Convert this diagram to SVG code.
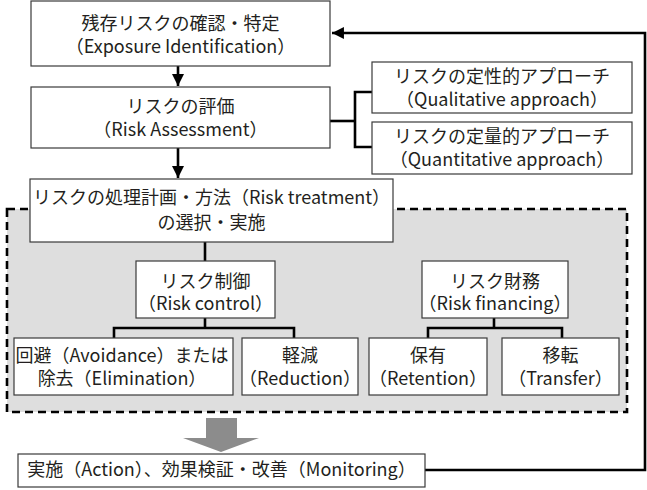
<svg xmlns="http://www.w3.org/2000/svg" width="647" height="490" viewBox="0 0 647 490">
<defs>
<style>
.box{fill:#fff;stroke:#3a3a3a;stroke-width:1.2}
.t{font-family:"Noto Sans CJK JP","Noto Sans",sans-serif;font-size:18px;fill:#231f20;text-anchor:middle}
.ln{fill:none;stroke:#000;stroke-width:2.6}
</style>
<marker id="ah" viewBox="0 0 10 10" refX="10" refY="5" markerWidth="4.6" markerHeight="4.6" orient="auto" markerUnits="strokeWidth">
<path d="M0,0 L10,5 L0,10 z" fill="#000"/>
</marker>
</defs>
<rect width="647" height="490" fill="#fff"/>
<g id="treatment-area">
<rect x="7" y="209" width="620" height="203" fill="#dedede" stroke="#000" stroke-width="2.6" stroke-dasharray="8,5"/>
</g>
<g id="connectors">
<line class="ln" x1="178" y1="66" x2="178" y2="86" marker-end="url(#ah)"/>
<line class="ln" x1="178" y1="148" x2="178" y2="178" marker-end="url(#ah)"/>
<polyline class="ln" points="330,121 355,121"/>
<polyline class="ln" points="372,92 355,92 355,147 372,147"/>
<line class="ln" x1="205" y1="242" x2="205" y2="261"/>
<line class="ln" x1="205" y1="318" x2="205" y2="328"/>
<polyline class="ln" points="114,338 114,328 294,328 294,338"/>
<line class="ln" x1="494" y1="318" x2="494" y2="328"/>
<polyline class="ln" points="428,338 428,328 562,328 562,338"/>
<polyline class="ln" points="425,470 645,470 645,33 332,33" marker-end="url(#ah)"/>
<polygon points="206,418 237,418 237,438 259,438 221,452 183,438 206,438" fill="#8c8c8c"/>
</g>
<g id="exposure">
<rect class="box" x="31" y="1" width="299" height="65"/>
<text class="t" x="180.5" y="30">残存リスクの確認・特定</text>
<text class="t" x="180.5" y="53">（Exposure Identification）</text>
</g>
<g id="assessment">
<rect class="box" x="31" y="87" width="299" height="61"/>
<text class="t" x="180.5" y="113">リスクの評価</text>
<text class="t" x="180.5" y="136">（Risk Assessment）</text>
</g>
<g id="qualitative">
<rect class="box" x="372" y="62" width="260" height="51"/>
<text class="t" x="502" y="83">リスクの定性的アプローチ</text>
<text class="t" x="502" y="106">（Qualitative approach）</text>
</g>
<g id="quantitative">
<rect class="box" x="372" y="122" width="260" height="52"/>
<text class="t" x="502" y="143">リスクの定量的アプローチ</text>
<text class="t" x="502" y="166">（Quantitative approach）</text>
</g>
<g id="treatment">
<rect class="box" x="30" y="179" width="363" height="63"/>
<text class="t" x="211.5" y="204">リスクの処理計画・方法（Risk treatment）</text>
<text class="t" x="211.5" y="229">の選択・実施</text>
</g>
<g id="control">
<rect class="box" x="136" y="261" width="139" height="57"/>
<text class="t" x="205.5" y="288">リスク制御</text>
<text class="t" x="205.5" y="310">（Risk control）</text>
</g>
<g id="financing">
<rect class="box" x="422" y="261" width="146" height="57"/>
<text class="t" x="495" y="288">リスク財務</text>
<text class="t" x="495" y="310">（Risk financing）</text>
</g>
<g id="avoidance">
<rect class="box" x="14" y="338" width="219" height="57"/>
<text class="t" x="122" y="362">回避（Avoidance）または</text>
<text class="t" x="122" y="385">除去（Elimination）</text>
</g>
<g id="reduction">
<rect class="box" x="242" y="338" width="116" height="57"/>
<text class="t" x="300" y="362">軽減</text>
<text class="t" x="300" y="385">（Reduction）</text>
</g>
<g id="retention">
<rect class="box" x="369" y="338" width="118" height="57"/>
<text class="t" x="428" y="362">保有</text>
<text class="t" x="428" y="385">（Retention）</text>
</g>
<g id="transfer">
<rect class="box" x="502" y="338" width="117" height="57"/>
<text class="t" x="560.5" y="362">移転</text>
<text class="t" x="560.5" y="385">（Transfer）</text>
</g>
<g id="action">
<rect class="box" x="18" y="454" width="407" height="33"/>
<text class="t" x="221.5" y="476">実施（Action）、効果検証・改善（Monitoring）</text>
</g>
</svg>
